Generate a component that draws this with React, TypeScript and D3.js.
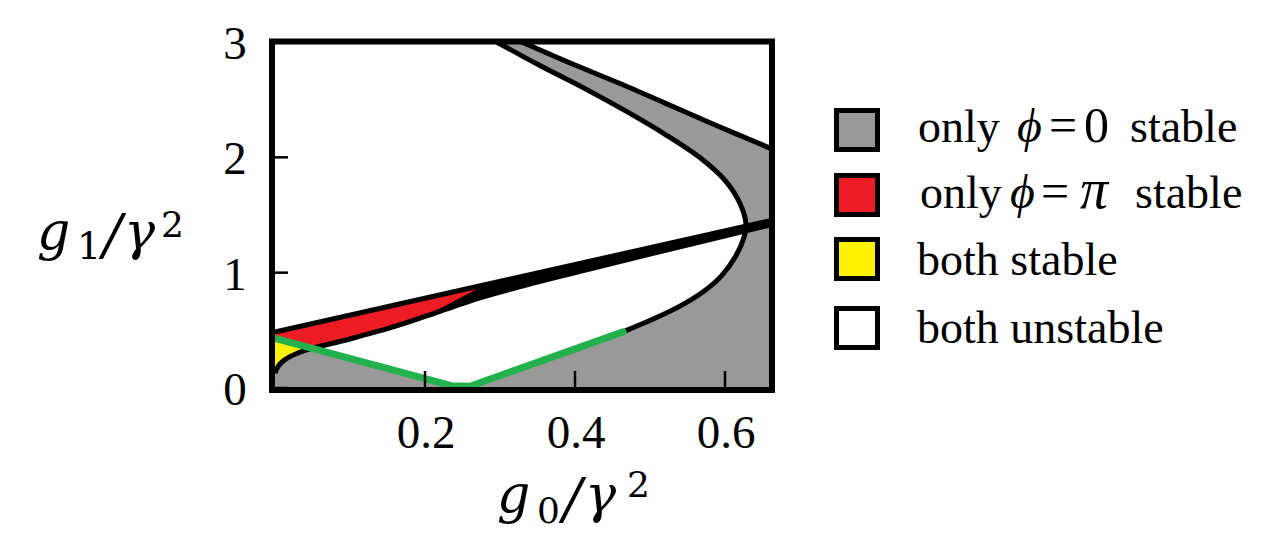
import React from 'react';
import * as d3 from 'd3';

type P = [number, number];

// ---- data (in axis units: g0/γ², g1/γ²) ----
const xDomain: P = [0, 0.66];
const yDomain: P = [0, 3];
const xTicks = [0.2, 0.4, 0.6];
const yTicks = [0, 1, 2, 3];

const upperBranch: P[] = [[0.29, 3.02], [0.352, 2.8], [0.412, 2.6], [0.468, 2.4], [0.52, 2.2], [0.566, 2.0], [0.60, 1.8], [0.62, 1.6], [0.628, 1.42]];
const lowerBranch: P[] = [[0.628, 1.42], [0.625, 1.30], [0.614, 1.14], [0.595, 0.97], [0.57, 0.83], [0.54, 0.71], [0.505, 0.60], [0.464, 0.487]];
const outerLine: P[] = [[0.322, 3.02], [0.40, 2.80], [0.46, 2.64], [0.52, 2.47], [0.58, 2.30], [0.66, 2.08]];
const line1: P[] = [[0, 0.485], [0.66, 1.451]];
const line2: P[] = [[0, 0.13], [0.004, 0.185], [0.012, 0.24], [0.024, 0.285], [0.039, 0.325], [0.1, 0.425], [0.163, 0.54], [0.22, 0.665], [0.27, 0.775], [0.33, 0.884], [0.407, 1.011], [0.5, 1.161], [0.66, 1.413]];
const greenV: P[] = [[0, 0.43], [0.235, 0.02], [0.26, 0.015], [0.464, 0.487]];
const redRegion: P[] = [[0, 0.485], [0.28, 0.895], [0.2, 0.62], [0.163, 0.54], [0.1, 0.425], [0.049, 0.343], [0, 0.43]];
const greenMeet: P = [0.049, 0.343];

const legendColors = ['#999999', '#ed1c24', '#fff200', '#ffffff'];
const legendTexts = ['only ϕ = 0 stable', 'only ϕ = π stable', 'both stable', 'both unstable'];

const GRAY = '#999999';
const RED = '#ed1c24';
const YELLOW = '#fff200';
const GREEN = '#22b14c';
const SERIF = '"Liberation Serif", "Times New Roman", serif';
const MATH = '"DejaVu Serif", serif';

export default function App() {
  const W = 1277, H = 551;
  const x = d3.scaleLinear().domain(xDomain).range([275, 770]);
  const y = d3.scaleLinear().domain(yDomain).range([388, 42]);

  const gen = (curve: any) => d3.line<P>().x(d => x(d[0])).y(d => y(d[1])).curve(curve);
  const cat = gen(d3.curveCatmullRom.alpha(0.5));
  const lin = gen(d3.curveLinear);
  const join = (parts: (string | null)[]) =>
    parts.map((s, i) => (i === 0 ? (s as string) : 'L' + (s as string).slice(1))).join('') + 'Z';

  const parabola = [...upperBranch, ...lowerBranch.slice(1)];
  const curveStart = line2.slice(0, 5);
  const curveRev = [...curveStart].reverse();
  const outerRev = [...outerLine].reverse();

  const grayPath = join([
    cat(parabola),
    lin([[0.26, 0.015], [0.235, 0.02], greenMeet]),
    cat(curveRev),
    lin([[0, -0.2], [0.75, -0.2], [0.75, 2.08]]),
    cat(outerRev),
    lin([[0.322, 3.3], [0.29, 3.3]]),
  ]);

  const yellowPath = join([cat(curveStart), lin([greenMeet, [0, 0.43]])]);

  const L1 = (v: number) => line1[0][1] + (line1[1][1] - line1[0][1]) * (v - line1[0][0]) / (line1[1][0] - line1[0][0]);
  const bandL2 = line2.filter(p => p[0] >= 0.163);
  const bandPath = join([lin([[0.2, L1(0.2)], [0.66, L1(0.66)], [0.7, L1(0.7)]]), cat([...bandL2].reverse())]);
  const redPath = lin(redRegion) + 'Z';

  const boxTops = [110.5, 175.5, 239.5, 308.5];
  const baselines = [142, 208, 275, 343];
  const legendPieces: { t: string; x: number; it?: boolean; s?: number }[][] = legendTexts.map((txt, i) => {
    const w = txt.split(' ');
    if (i === 0) return [{ t: w[0], x: 918 }, { t: w[1], x: 1017, it: true, s: 48 }, { t: w[2], x: 1049, s: 50 }, { t: w[3], x: 1084, s: 50 }, { t: w[4], x: 1130 }];
    if (i === 1) return [{ t: w[0], x: 920 }, { t: w[1], x: 1010, it: true, s: 48 }, { t: w[2], x: 1041, s: 50 }, { t: w[3], x: 1080, it: true, s: 56 }, { t: w[4], x: 1135 }];
    return [{ t: txt, x: 917 }];
  });

  return (
    <svg width={W} height={H} style={{ position: 'absolute', left: 0, top: 0, background: '#fff' }}>
      <defs>
        <clipPath id="plotClip">
          <rect x={272} y={41.5} width={500} height={348.5} />
        </clipPath>
      </defs>
      <rect x={0} y={0} width={W} height={H} fill="#fff" />
      <g clipPath="url(#plotClip)">
        <rect x={272} y={41.5} width={500} height={348.5} fill="#fff" />
        <path d={grayPath} fill={GRAY} />
        <path d={yellowPath} fill={YELLOW} />
        <path d={bandPath} fill="#000" />
        <path d={redPath} fill={RED} />
        <path d={lin(line1) as string} fill="none" stroke="#000" strokeWidth={5} />
        <path d={cat(line2) as string} fill="none" stroke="#000" strokeWidth={5} />
        <path d={cat(parabola) as string} fill="none" stroke="#000" strokeWidth={5} />
        <path d={cat(outerLine) as string} fill="none" stroke="#000" strokeWidth={5} />
        <path d={lin(greenV) as string} fill="none" stroke={GREEN} strokeWidth={7} strokeLinejoin="round" strokeLinecap="round" />
      </g>
      {/* ticks */}
      {xTicks.map(t => (
        <line key={'xt' + t} x1={x(t)} x2={x(t)} y1={387} y2={371} stroke="#000" strokeWidth={2.5} />
      ))}
      {yTicks.map(t => (
        <line key={'yt' + t} x1={275} x2={288} y1={y(t)} y2={y(t)} stroke="#000" strokeWidth={2.5} />
      ))}
      <rect x={272} y={41.5} width={500} height={348.5} fill="none" stroke="#000" strokeWidth={6} />
      {/* tick labels */}
      {xTicks.map(t => (
        <text key={'xl' + t} x={x(t) + 1} y={448} textAnchor="middle" fontFamily={SERIF} fontSize={47}>{String(t)}</text>
      ))}
      {yTicks.map(t => (
        <text key={'yl' + t} x={235} y={y(t) + 17} textAnchor="middle" fontFamily={SERIF} fontSize={47}>{String(t)}</text>
      ))}
      {/* axis titles */}
      <g fontFamily={MATH}>
        <text x={497} y={512} fontSize={52} fontStyle="italic">g</text>
        <text x={537} y={523} fontSize={36}>0</text>
        <text x={563} y={518} fontSize={56} fontStyle="italic">/</text>
        <text x={585} y={512} fontSize={52} fontStyle="italic">γ</text>
        <text x={627} y={497} fontSize={36}>2</text>

        <text x={37} y={249} fontSize={52} fontStyle="italic">g</text>
        <text x={77} y={259} fontSize={38}>1</text>
        <text x={103} y={254} fontSize={56} fontStyle="italic">/</text>
        <text x={124} y={249} fontSize={52} fontStyle="italic">γ</text>
        <text x={161} y={237} fontSize={36}>2</text>
      </g>
      {/* legend */}
      {legendColors.map((c, i) => (
        <g key={'lg' + i}>
          <rect x={836.5} y={boxTops[i]} width={41} height={39} fill={c} stroke="#000" strokeWidth={5} />
          {legendPieces[i].map((p, j) => (
            <text key={j} x={p.x} y={baselines[i]} fontFamily={SERIF} fontSize={p.s ?? 46} fontStyle={p.it ? 'italic' : 'normal'}>{p.t}</text>
          ))}
        </g>
      ))}
    </svg>
  );
}
